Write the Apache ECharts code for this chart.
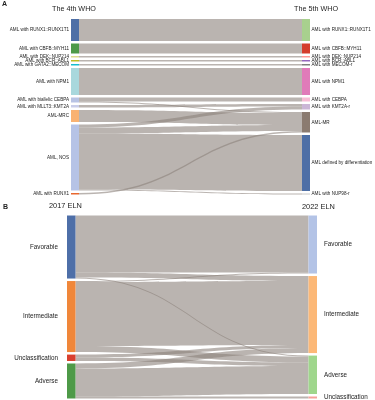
<!DOCTYPE html>
<html><head><meta charset="utf-8">
<script src="https://cdn.jsdelivr.net/npm/echarts@6/dist/echarts.min.js"></script>
<style>html,body{margin:0;padding:0;background:#fff}#c{width:375px;height:400px}</style>
</head><body><div id="c"></div>
<script>
// ---- Panel A data ----
const whoLeft = ['AML with RUNX1::RUNX1T1','AML with CBFB::MYH11','AML with DEK::NUP214','AML with BCR::ABL1','AML with GATA2::MECOM','AML with NPM1','AML with biallelic CEBPA','AML with MLLT3::KMT2A','AML-MRC','AML, NOS','AML with RUNX1'];
const whoRight = ['AML with RUNX1::RUNX1T1','AML with CBFB::MYH11','AML with DEK::NUP214','AML with BCR::ABL1','AML with MECOM-r','AML with NPM1','AML with CEBPA','AML with KMT2A-r','AML-MR','AML defined by differentiation','AML with NUP98-r'];
const whoLeftColors = ['#4e6fa6','#4e9a48','#dbdb8d','#bcbd22','#17becf','#a9d8dd','#b8c3e4','#c9cde9','#f9b272','#b6c3e6','#e8672f'];
const whoRightColors = ['#a8d08e','#d43d2c','#ff9896','#9467bd','#7f7f7f','#e07bb9','#f6bdd5','#cbb6d6','#8b7b70','#4e6fa6','#c7c7c7'];
// [source index (left), target index (right), value]
const whoFlows = [[0,0,22],[1,1,10],[2,2,1.5],[3,3,1.5],[4,4,1.5],[5,5,27],[6,6,4],[6,8,1],[7,7,2.5],[8,8,12],[9,7,3],[9,8,6],[9,9,56],[9,10,1],[10,8,1.5]];
const whoTitles = ['The 4th WHO','The 5th WHO'];

// ---- Panel B data ----
const elnLeft = ['Favorable','Intermediate','Unclassification','Adverse'];
const elnRight = ['Favorable','Intermediate','Adverse','Unclassification'];
const elnLeftColors = ['#4e6fa8','#f0873a','#d9402f','#4e9a48'];
const elnRightColors = ['#b3c3e6','#fcb877','#9fd68c','#f5a09a'];
const elnFlows = [[0,0,57],[0,1,5],[0,2,1],[1,0,1],[1,1,64],[1,2,6],[2,1,3],[2,2,3.4],[3,1,5],[3,2,28],[3,3,2]];
const elnTitles = ['2017 ELN','2022 ELN'];

const FONT = '"Liberation Sans", Arial, sans-serif';
function build(left, right, lc, rc, flows, dist) {
  const nodes = [];
  left.forEach((n,i)=>nodes.push({name:'L|'+n, depth:0, itemStyle:{color:lc[i]}, label:{position:'left', distance:dist[0]}}));
  right.forEach((n,i)=>nodes.push({name:'R|'+n, depth:1, itemStyle:{color:rc[i]}, label:{position:'right', distance:dist[1]}}));
  const links = flows.map(f=>({source:'L|'+left[f[0]], target:'R|'+right[f[1]], value:f[2]}));
  return {nodes, links};
}
const A = build(whoLeft, whoRight, whoLeftColors, whoRightColors, whoFlows, [2,1.5]);
const B = build(elnLeft, elnRight, elnLeftColors, elnRightColors, elnFlows, [9,7]);
const fmt = p => p.name.replace(/^[LR]\|/, '');
const common = {
  type:'sankey', layoutIterations:0, draggable:false, silent:true, nodeAlign:'justify',
  lineStyle:{color:'#8c827b', opacity:0.6, curveness:0.5},
  itemStyle:{borderWidth:0},
  emphasis:{disabled:true}
};
const chart = echarts.init(document.getElementById('c'), null, {renderer:'canvas'});
chart.setOption({
  animation:false,
  textStyle:{fontFamily:FONT},
  graphic:[
    {type:'text', left:2, top:1, style:{text:'A', font:'bold 7px '+FONT, fill:'#222'}},
    {type:'text', left:3, top:204, style:{text:'B', font:'bold 7px '+FONT, fill:'#222'}},
    {type:'text', left:52, top:6, style:{text:whoTitles[0], font:'7.2px '+FONT, fill:'#222'}},
    {type:'text', right:37, top:6, style:{text:whoTitles[1], font:'7.2px '+FONT, fill:'#222'}},
    {type:'text', left:49, top:202, style:{text:elnTitles[0], font:'7.4px '+FONT, fill:'#222'}},
    {type:'text', left:302, top:203, style:{text:elnTitles[1], font:'7.4px '+FONT, fill:'#222'}}
  ],
  series:[
    Object.assign({}, common, {
      left:71, right:65, top:19, bottom:205.5, nodeWidth:8, nodeGap:2.5,
      label:{fontSize:4.6, color:'#222', fontFamily:FONT, formatter:fmt},
      data:A.nodes, links:A.links
    }),
    Object.assign({}, common, {
      left:67, right:58, top:215.5, bottom:1.5, nodeWidth:8.5, nodeGap:2.5,
      label:{fontSize:6.3, color:'#222', fontFamily:FONT, formatter:fmt},
      data:B.nodes, links:B.links
    })
  ]
});
</script></body></html>
